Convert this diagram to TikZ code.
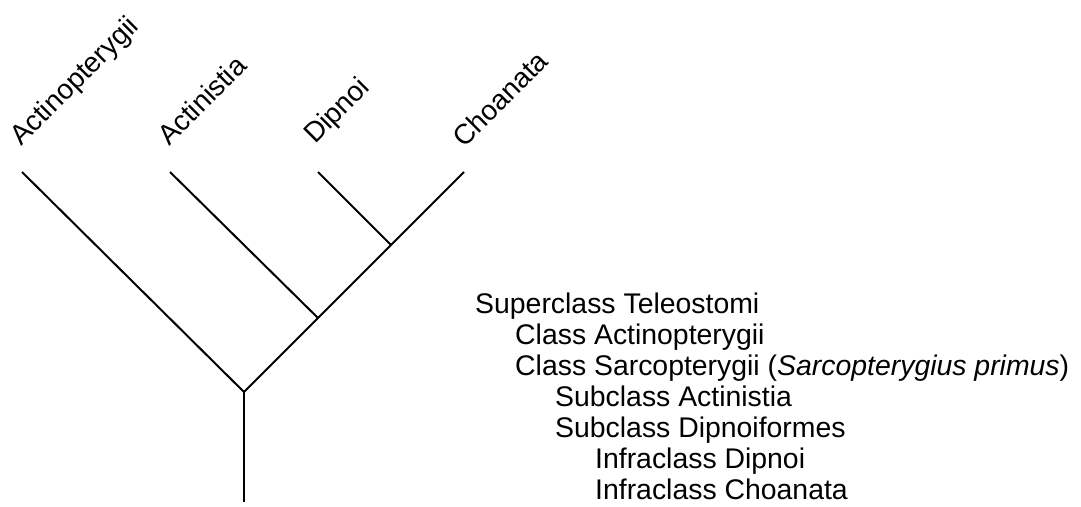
\documentclass[tikz,border=0pt]{standalone}
\usepackage{fontspec}
\setmainfont{Liberation Sans}
\usetikzlibrary{positioning}

\begin{document}
\begin{tikzpicture}[x=1pt, y=-1pt,
    branch/.style={line width=2pt, line join=miter},
    taxon/.style={rotate=45, anchor=base west, inner sep=0pt, font=\fontsize{28}{31}\selectfont},
    rank/.style={anchor=base west, inner sep=0pt, font=\fontsize{28.4}{31}\selectfont}]
    \useasboundingbox (0,0) rectangle (1081,506);
    % tree
    \coordinate (base) at (244,502);
    \coordinate (root) at (244,392);
    \coordinate (sarc) at (318,318);
    \coordinate (dipn) at (391,245);
    \coordinate (actp) at (22,172);
    \coordinate (actn) at (170,172);
    \coordinate (dipt) at (318,172);
    \coordinate (choa) at (464,172);
    \draw[branch] (actp) -- (root) -- (choa);
    \draw[branch] (root) -- (base);
    \draw[branch] (actn) -- (sarc);
    \draw[branch] (dipt) -- (dipn);
    % leaf labels
    \node[taxon] (lactp) at ([shift={(-1,-25)}]actp) {Actinopterygii};
    \node[taxon] (lactn) at ([shift={(-1,-25)}]actn) {Actinistia};
    \node[taxon] (ldipt) at ([shift={(-3,-27)}]dipt) {Dipnoi};
    \node[taxon] (lchoa) at ([shift={(0,-23)}]choa) {Choanata};
    % classification
    \node[rank] (tele) at (475,313) {Superclass Teleostomi};
    \node[rank] (cactp) at ([shift={(40,31)}]tele.base west) {Class Actinopterygii};
    \node[rank] (csarc) at ([shift={(0,31)}]cactp.base west) {Class Sarcopterygii (\textit{Sarcopterygius primus})};
    \node[rank] (sactn) at ([shift={(40,31)}]csarc.base west) {Subclass Actinistia};
    \node[rank] (sdipf) at ([shift={(0,31)}]sactn.base west) {Subclass Dipnoiformes};
    \node[rank] (idipn) at ([shift={(40,31)}]sdipf.base west) {Infraclass Dipnoi};
    \node[rank] (ichoa) at ([shift={(0,31)}]idipn.base west) {Infraclass Choanata};
\end{tikzpicture}
\end{document}
